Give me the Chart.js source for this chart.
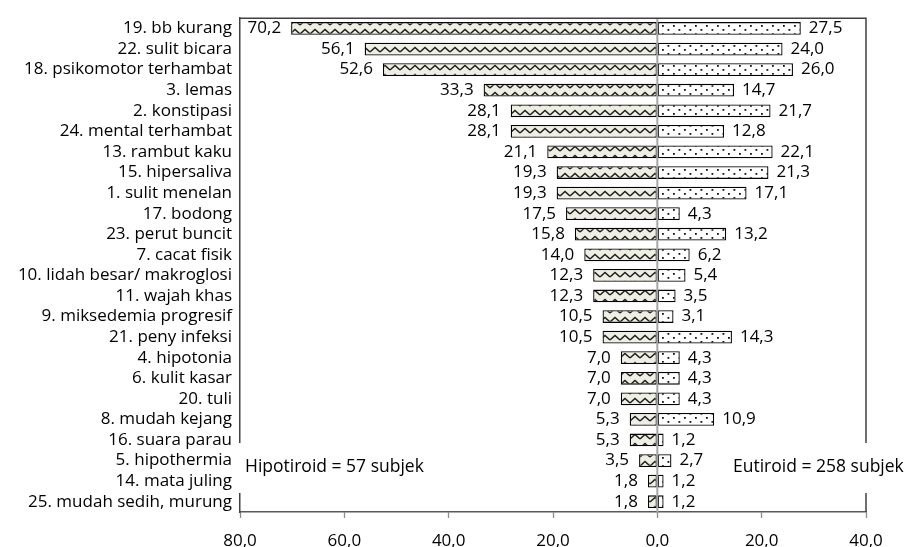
<!DOCTYPE html>
<html>
<head>
<meta charset="utf-8">
<script src="https://cdn.jsdelivr.net/npm/chart.js@4.4.1/dist/chart.umd.min.js"></script>
<style>
  body { margin: 0; background: #fff; }
  #wrap { width: 923px; height: 547px; }
</style>
</head>
<body>
<div id="wrap"><canvas id="gejalaChart"></canvas></div>
<script>
// categories, top to bottom
const categories = [
    '19. bb kurang', '22. sulit bicara', '18. psikomotor terhambat', '3. lemas',
    '2. konstipasi', '24. mental terhambat', '13. rambut kaku', '15. hipersaliva',
    '1. sulit menelan', '17. bodong', '23. perut buncit', '7. cacat fisik',
    '10. lidah besar/ makroglosi', '11. wajah khas', '9. miksedemia progresif', '21. peny infeksi',
    '4. hipotonia', '6. kulit kasar', '20. tuli', '8. mudah kejang',
    '16. suara parau', '5. hipothermia', '14. mata juling', '25. mudah sedih, murung'
];
// percent of subjects
const hipotiroid = [70.2, 56.1, 52.6, 33.3, 28.1, 28.1, 21.1, 19.3, 19.3, 17.5, 15.8, 14.0,
    12.3, 12.3, 10.5, 10.5, 7.0, 7.0, 7.0, 5.3, 5.3, 3.5, 1.8, 1.8];
const eutiroid = [27.5, 24.0, 26.0, 14.7, 21.7, 12.8, 22.1, 21.3, 17.1, 4.3, 13.2, 6.2,
    5.4, 3.5, 3.1, 14.3, 4.3, 4.3, 4.3, 10.9, 1.2, 2.7, 1.2, 1.2];
const xTicks = [-80, -60, -40, -20, 0, 20, 40];
const groupNotes = ['Hipotiroid = 57 subjek', 'Eutiroid = 258 subjek'];

const FONT = "'Open Sans', 'Noto Sans', sans-serif";
const fmt = v => Math.abs(v).toFixed(1).replace('.', ',');

// wave pattern (hipotiroid)
function wavePattern() {
    const c = document.createElement('canvas');
    c.width = 10; c.height = 9;
    const g = c.getContext('2d');
    g.fillStyle = '#efeee2';
    g.fillRect(0, 0, 10, 9);
    g.strokeStyle = '#1e1e1e';
    g.lineWidth = 1.5;
    g.beginPath();
    g.moveTo(0, 7); g.lineTo(5, 2.5); g.lineTo(10, 7);
    g.stroke();
    return g.createPattern(c, 'repeat');
}

// dotted pattern (eutiroid)
function dotPattern() {
    const c = document.createElement('canvas');
    c.width = 11; c.height = 8;
    const g = c.getContext('2d');
    g.fillStyle = '#ffffff';
    g.fillRect(0, 0, 11, 8);
    g.fillStyle = '#111';
    g.fillRect(2, 1, 1.8, 1.8);
    g.fillRect(7.5, 5, 1.8, 1.8);
    return g.createPattern(c, 'repeat');
}

const framePlugin = {
    id: 'frame',
    afterDatasetsDraw(chart) {
        const {ctx, chartArea: a, scales: {x}} = chart;
        ctx.save();
        // zero line
        const x0 = x.getPixelForValue(0);
        ctx.strokeStyle = '#a6a6a6';
        ctx.lineWidth = 2;
        ctx.beginPath();
        ctx.moveTo(x0, a.top); ctx.lineTo(x0, a.bottom);
        ctx.stroke();

        // value labels
        ctx.font = '17px ' + FONT;
        ctx.fillStyle = '#000';
        ctx.textBaseline = 'middle';
        chart.data.datasets.forEach((ds, di) => {
            chart.getDatasetMeta(di).data.forEach((bar, i) => {
                const v = ds.data[i];
                if (v < 0) {
                    ctx.textAlign = 'right';
                    ctx.fillText(fmt(v), bar.x - 10, bar.y);
                } else {
                    ctx.textAlign = 'left';
                    ctx.fillText(fmt(v), bar.x + 8, bar.y);
                }
            });
        });
        ctx.restore();
    },
    afterDraw(chart) {
        const {ctx, chartArea: a} = chart;
        ctx.save();
        ctx.strokeStyle = '#404040';
        ctx.lineWidth = 1.5;
        ctx.beginPath();
        ctx.moveTo(a.left, a.top); ctx.lineTo(a.right, a.top);
        ctx.lineTo(a.right, a.bottom);
        ctx.stroke();

        // group notes on white boxes
        ctx.font = '17.5px ' + FONT;
        ctx.textBaseline = 'middle';
        ctx.textAlign = 'left';
        const noteY = 467;
        ctx.fillStyle = '#fff';
        ctx.fillRect(a.left - 3, noteY - 24, 210, 50);
        ctx.fillRect(728, noteY - 24, 195, 50);
        ctx.fillStyle = '#000';
        ctx.fillText(groupNotes[0], a.left + 5, noteY);
        ctx.fillText(groupNotes[1], 733, noteY);
        ctx.restore();
    }
};

new Chart(document.getElementById('gejalaChart'), {
    type: 'bar',
    data: {
        labels: categories,
        datasets: [{
            label: 'Hipotiroid',
            data: hipotiroid.map(v => -v),
            backgroundColor: wavePattern(),
            borderColor: '#000',
            borderWidth: 1.3,
            borderSkipped: false,
            barPercentage: 0.62,
            categoryPercentage: 1
        }, {
            label: 'Eutiroid',
            data: eutiroid,
            backgroundColor: dotPattern(),
            borderColor: '#000',
            borderWidth: 1.3,
            borderSkipped: false,
            barPercentage: 0.62,
            categoryPercentage: 1
        }]
    },
    options: {
        indexAxis: 'y',
        responsive: true,
        maintainAspectRatio: false,
        animation: false,
        layout: { padding: { top: 13, right: 57, left: 0, bottom: 0 } },
        plugins: { legend: { display: false }, tooltip: { enabled: false } },
        scales: {
            x: {
                stacked: true,
                min: -80,
                max: 40,
                afterBuildTicks: s => { s.ticks = xTicks.map(v => ({ value: v })); },
                afterFit: s => { s.height = 35; },
                grid: { drawOnChartArea: false, tickLength: 6, tickColor: '#8c8c8c', tickWidth: 1.3 },
                border: { color: '#595959', width: 1.5 },
                ticks: {
                    color: '#000',
                    padding: 13,
                    font: { family: FONT, size: 17 },
                    callback: v => fmt(v)
                }
            },
            y: {
                stacked: true,
                afterFit: s => { s.width = 240; },
                grid: { display: false, drawTicks: false },
                border: { color: '#404040', width: 1.5 },
                ticks: {
                    color: '#000',
                    padding: 8,
                    autoSkip: false,
                    font: { family: FONT, size: 17 }
                }
            }
        }
    },
    plugins: [framePlugin]
});
</script>
</body>
</html>
